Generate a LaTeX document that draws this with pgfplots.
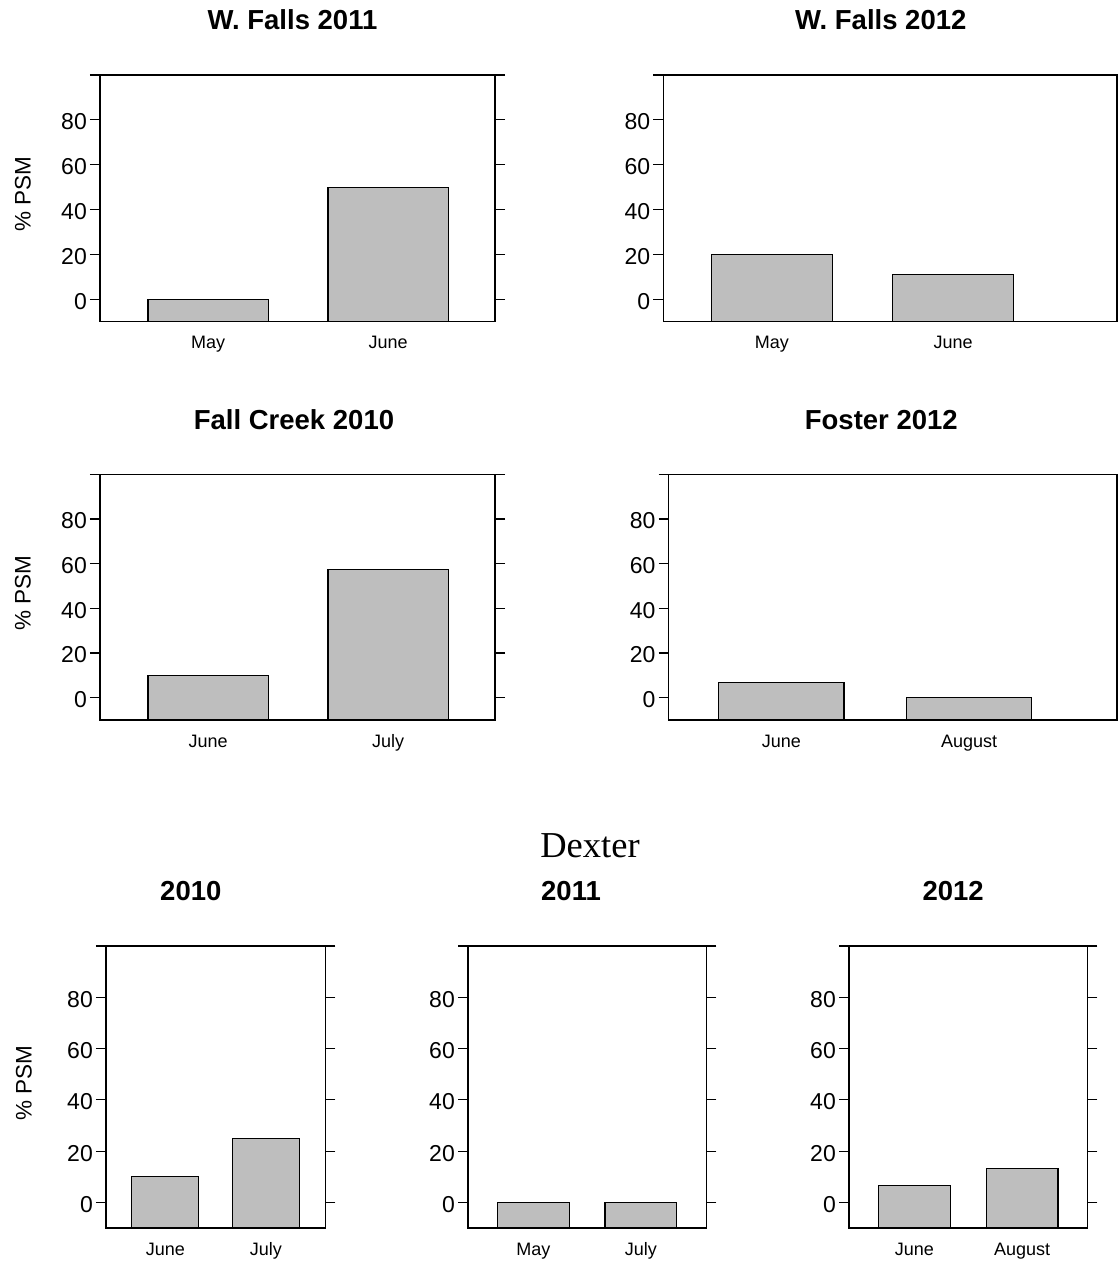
\documentclass[border=0pt]{standalone}
\usepackage{pgfplots}
\pgfplotsset{compat=1.18}
\usepackage{fontspec}
\setmainfont{Liberation Sans}
\newfontfamily\seriffont{Liberation Serif}
\definecolor{barfill}{RGB}{190,190,190}
\pgfplotsset{
  psm/.style={
    scale only axis,
    anchor=south west,
    ymin=-10, ymax=100,
    y coord trafo/.code={\pgfmathparse{##1+10}},
    y coord inv trafo/.code={\pgfmathparse{##1-10}},
    ytick={0,20,40,60,80,100},
    yticklabels={0,20,40,60,80,{}},
    xtick={1,2},
    ybar, bar width=0.667, bar shift=0pt,
    axis line style={line width=1.2pt},
    ytick style={line width=1.1pt, black},
    tick align=outside,
    xtick align=inside,
    major tick length=10pt,
    xtick style={draw=none},
    yticklabel style={font=\fontsize{23}{26}\selectfont, inner sep=3pt, yshift=-2pt},
    xticklabel style={font=\fontsize{18}{22}\selectfont, anchor=north, inner sep=0pt, text height=13pt, yshift=-14pt},
    ylabel style={font=\fontsize{22.5}{26}\selectfont, at={(axis description cs:0,0.5)}, anchor=center},
    clip=true,
  },
  bars/.style={fill=barfill, draw=black, line width=1.1pt},
}
\begin{document}
\begin{tikzpicture}[x=1pt,y=1pt]
\path[use as bounding box] (0,0) rectangle (1118,1264);

% W. Falls 2011
\begin{axis}[psm, at={(100pt,942.3pt)}, width=395pt, height=246.7pt,
  xmin=0.4, xmax=2.594, xticklabels={May,June},
  ylabel={\% PSM}, ylabel style={yshift=77pt, xshift=4pt}]
\addplot[bars] coordinates {(1,0) (2,50)};
\end{axis}

% W. Falls 2012
\begin{axis}[psm, at={(663.3pt,942.3pt)}, width=453.7pt, height=246.7pt,
  xmin=0.401, xmax=2.905, xticklabels={May,June}]
\addplot[bars] coordinates {(1,20) (2,11)};
\end{axis}

% Fall Creek 2010
\begin{axis}[psm, at={(100pt,544pt)}, width=395pt, height=245.7pt,
  xmin=0.4, xmax=2.594, xticklabels={June,July},
  ylabel={\% PSM}, ylabel style={yshift=77pt, xshift=4pt}]
\addplot[bars] coordinates {(1,10) (2,57.5)};
\end{axis}

% Foster 2012
\begin{axis}[psm, at={(668.7pt,544pt)}, width=448.3pt, height=245.7pt,
  xmin=0.4, xmax=2.787, xticklabels={June,August}]
\addplot[bars] coordinates {(1,6.7) (2,0)};
\end{axis}

% Dexter 2010
\begin{axis}[psm, at={(106pt,36pt)}, width=219.3pt, height=282pt,
  xmin=0.41, xmax=2.592, xticklabels={June,July},
  ylabel={\% PSM}, ylabel style={yshift=82pt, xshift=4pt}]
\addplot[bars] coordinates {(1,10) (2,25)};
\end{axis}

% Dexter 2011
\begin{axis}[psm, at={(468pt,36pt)}, width=238.3pt, height=282pt,
  xmin=0.393, xmax=2.609, xticklabels={May,July}]
\addplot[bars] coordinates {(1,0) (2,0)};
\end{axis}

% Dexter 2012
\begin{axis}[psm, at={(849pt,36pt)}, width=238.3pt, height=282pt,
  xmin=0.394, xmax=2.606, xticklabels={June,August}]
\addplot[bars] coordinates {(1,6.7) (2,13.3)};
\end{axis}

\begin{scope}[every node/.style={anchor=base, inner sep=0pt, font=\bfseries\fontsize{27.5}{30}\selectfont}]
\node at (292.5,1234) {W. Falls 2011};
\node at (880.8,1234) {W. Falls 2012};
\node at (294,834) {Fall Creek 2010};
\node at (881.3,834) {Foster 2012};
\node at (190.8,363) {2010};
\node at (571,363) {2011};
\node at (953.2,363) {2012};
\end{scope}
\node[anchor=base, inner sep=0pt, font=\seriffont\fontsize{36.5}{40}\selectfont] at (590,406.7) {Dexter};
\end{tikzpicture}
\end{document}
